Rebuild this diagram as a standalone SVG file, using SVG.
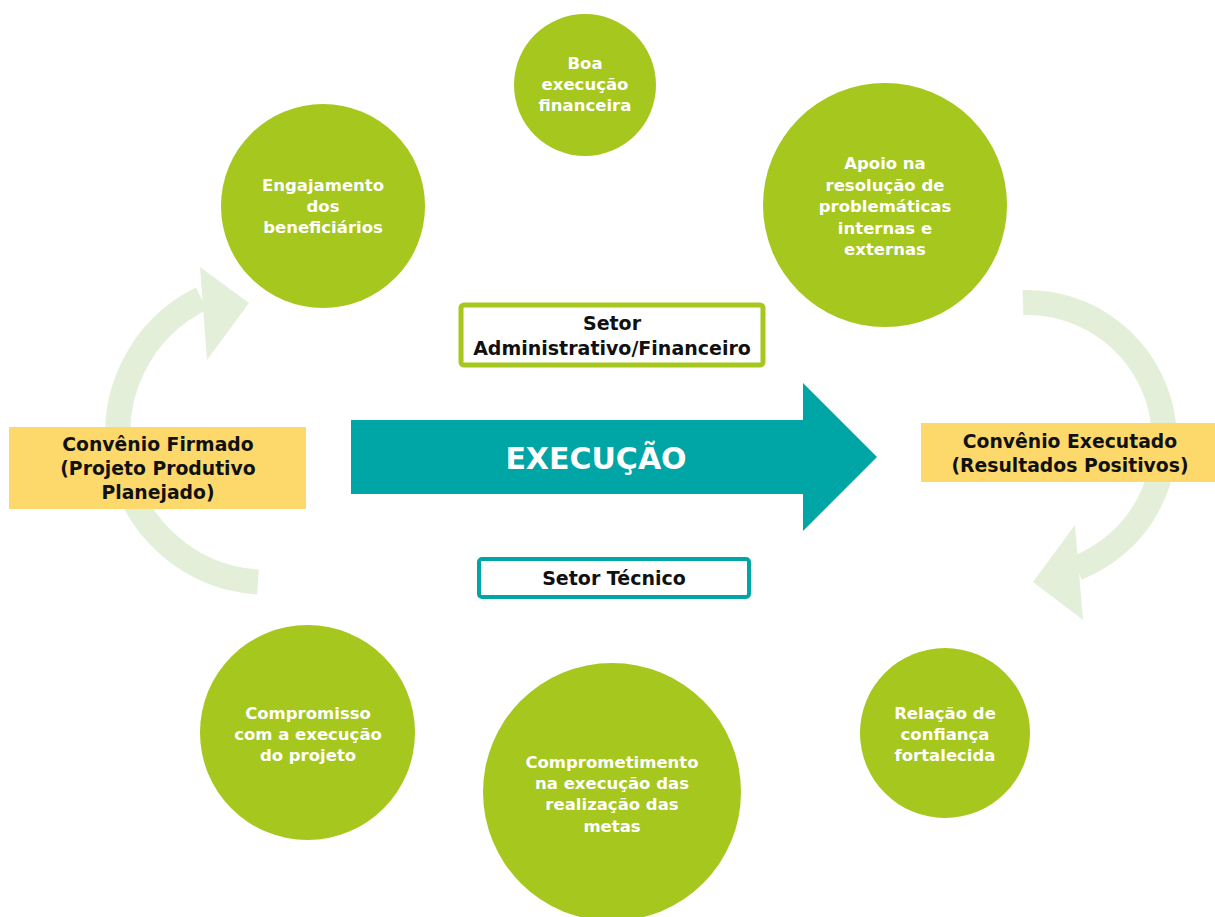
<svg xmlns="http://www.w3.org/2000/svg" width="1215" height="917" viewBox="0 0 1215 917">
<style>
.c{fill:#a6c71e}
.ct{fill:#fff;font-family:"DejaVu Sans",sans-serif;font-weight:700;font-size:16.5px;text-anchor:middle}
.y{fill:#fdd96b}
.yt{fill:#111;font-family:"DejaVu Sans",sans-serif;font-weight:700;font-size:18.8px;text-anchor:middle}
.bt{fill:#111;font-family:"DejaVu Sans",sans-serif;font-weight:700;font-size:19px;text-anchor:middle}
.arc{fill:none;stroke:#e4efda;stroke-width:25}
.head{fill:#e4efda}
</style>
<rect width="1215" height="917" fill="#fff"/>
<g id="connectors">
  <path class="arc" d="M 258 582 A 149.5 149.5 0 0 1 201.5 298.6"/>
  <polygon class="head" points="200,267 249,303 207,360"/>
  <path class="arc" d="M 1023 302.5 A 137.5 137.5 0 0 1 1077 568"/>
  <polygon class="head" points="1075,525 1033,582 1083,620"/>
  <polygon id="exec-arrow" fill="#00a5a6" points="351,420 803,420 803,383 877,457 803,531 803,494 351,494"/>
  <text x="596" y="469" fill="#fff" font-family="DejaVu Sans, sans-serif" font-weight="700" font-size="30" text-anchor="middle">EXECUÇÃO</text>
</g>
<g id="n-boa">
  <circle class="c" cx="585" cy="85" r="71"/>
  <text class="ct"><tspan x="585" y="69">Boa</tspan><tspan x="585" y="90">execução</tspan><tspan x="585" y="111">financeira</tspan></text>
</g>
<g id="n-engajamento">
  <circle class="c" cx="323" cy="206" r="102"/>
  <text class="ct"><tspan x="323" y="191">Engajamento</tspan><tspan x="323" y="212">dos</tspan><tspan x="323" y="233">beneficiários</tspan></text>
</g>
<g id="n-apoio">
  <circle class="c" cx="885" cy="205" r="122"/>
  <text class="ct"><tspan x="885" y="169">Apoio na</tspan><tspan x="885" y="191">resolução de</tspan><tspan x="885" y="212">problemáticas</tspan><tspan x="885" y="234">internas e</tspan><tspan x="885" y="255">externas</tspan></text>
</g>
<g id="n-compromisso">
  <circle class="c" cx="307.5" cy="732.5" r="107.5"/>
  <text class="ct"><tspan x="308" y="719">Compromisso</tspan><tspan x="308" y="740">com a execução</tspan><tspan x="308" y="761">do projeto</tspan></text>
</g>
<g id="n-comprometimento">
  <circle class="c" cx="612" cy="792" r="129"/>
  <text class="ct"><tspan x="612" y="768">Comprometimento</tspan><tspan x="612" y="789">na execução das</tspan><tspan x="612" y="810">realização das</tspan><tspan x="612" y="832">metas</tspan></text>
</g>
<g id="n-relacao">
  <circle class="c" cx="945" cy="733" r="85"/>
  <text class="ct"><tspan x="945" y="719">Relação de</tspan><tspan x="945" y="740">confiança</tspan><tspan x="945" y="761">fortalecida</tspan></text>
</g>
<g id="n-firmado">
  <rect class="y" x="9" y="427" width="297" height="82"/>
  <text class="yt"><tspan x="158" y="451">Convênio Firmado</tspan><tspan x="158" y="475">(Projeto Produtivo</tspan><tspan x="158" y="499">Planejado)</tspan></text>
</g>
<g id="n-executado">
  <rect class="y" x="921" y="423" width="294" height="59"/>
  <text class="yt"><tspan x="1070" y="448">Convênio Executado</tspan><tspan x="1070" y="472">(Resultados Positivos)</tspan></text>
</g>
<g id="n-admin">
  <rect x="461" y="305" width="302" height="60" rx="3" fill="#fff" stroke="#a6c71e" stroke-width="5"/>
  <text class="bt"><tspan x="612" y="330">Setor</tspan><tspan x="612" y="355">Administrativo/Financeiro</tspan></text>
</g>
<g id="n-tecnico">
  <rect x="479" y="559" width="270" height="38" rx="3" fill="#fff" stroke="#00a5a6" stroke-width="4"/>
  <text class="bt" x="614" y="585" font-size="20.5">Setor Técnico</text>
</g>
</svg>
